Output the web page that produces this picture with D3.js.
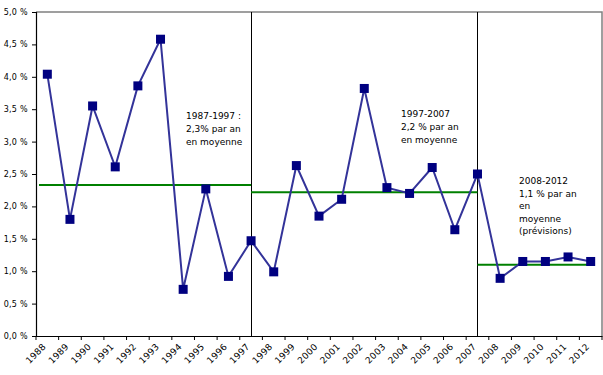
<!DOCTYPE html>
<html><head><meta charset="utf-8">
<script src="https://cdn.jsdelivr.net/npm/d3@7"></script>
<style>
body{margin:0;background:#fff;}
svg{display:block;font-family:"DejaVu Sans",Verdana,sans-serif;}
</style></head>
<body><svg id="c" width="603" height="375"></svg>
<script>
const years = ["1988","1989","1990","1991","1992","1993","1994","1995","1996","1997","1998","1999","2000","2001","2002","2003","2004","2005","2006","2007","2008","2009","2010","2011","2012"];
const growth = [4.04,1.80,3.55,2.61,3.86,4.58,0.72,2.27,0.92,1.47,0.99,2.63,1.85,2.11,3.82,2.29,2.20,2.60,1.64,2.50,0.89,1.15,1.15,1.22,1.15];
const yTicks = [0,0.5,1,1.5,2,2.5,3,3.5,4,4.5,5];
const periodFrom = ["1988","1997","2007"];
const periodTo = ["1997","2007","2012"];
const periodMean = [2.33,2.22,1.10];
const separators = ["1997","2007"];
const notes = [
  ["1987-1997 :","2,3% par an","en moyenne"],
  ["1997-2007","2,2 % par an","en moyenne"],
  ["2008-2012","1,1 % par an","en","moyenne","(prévisions)"]
];

const svg = d3.select("#c");
const L=36, R=602, T=12, B=336;
const x = d3.scaleBand().domain(years).range([L,R]);
const y = d3.scaleLinear().domain([0,5]).range([B,T]);
const cx = d => x(d)+x.bandwidth()/2;

// top & right border
svg.append("path").attr("d",`M${L},${T}H${R}V${B}`).attr("fill","none").attr("stroke","#808080").attr("stroke-width",1.5);

// separators
svg.selectAll(".sep").data(separators).join("line")
  .attr("x1",d=>Math.round(cx(d))+0.5).attr("x2",d=>Math.round(cx(d))+0.5)
  .attr("y1",T).attr("y2",B).attr("stroke","#000").attr("stroke-width",1);

// y axis
const fmt = v => d3.format(".1f")(v).replace(".",",")+" %";
const ya = svg.append("g").attr("transform",`translate(${L},0)`)
  .call(d3.axisLeft(y).tickValues(yTicks).tickSize(4).tickFormat(fmt));
ya.select(".domain").attr("stroke","#000").attr("stroke-width",1.2);
ya.selectAll("text").attr("font-size",8).attr("fill","#000").attr("font-family","DejaVu Sans, sans-serif").attr("x",-8).attr("letter-spacing",0.3);

// x axis
const xa = svg.append("g").attr("transform",`translate(0,${B})`)
  .call(d3.axisBottom(x).tickSize(0).tickFormat(""));
xa.select(".domain").attr("stroke","#000").attr("stroke-width",1.2);
const bounds = years.map(d=>x(d)).concat([R]);
svg.selectAll(".xt").data(bounds).join("line")
  .attr("x1",d=>d).attr("x2",d=>d).attr("y1",B).attr("y2",B+4).attr("stroke","#000");
svg.selectAll(".xl").data(years).join("text")
  .attr("transform",d=>`translate(${cx(d)-3},${B+9}) rotate(-45)`)
  .attr("text-anchor","end").attr("font-size",9).attr("fill","#000")
  .attr("letter-spacing",0.3)
  .attr("dy","0.35em").text(d=>d);

// mean lines
svg.selectAll(".mean").data(periodMean).join("line")
  .attr("x1",(d,i)=> i===0 ? L+3 : cx(periodFrom[i]))
  .attr("x2",(d,i)=> i===periodMean.length-1 ? cx(periodTo[i])+4 : cx(periodTo[i]))
  .attr("y1",d=>y(d)).attr("y2",d=>y(d))
  .attr("stroke","#008000").attr("stroke-width",2);

// series line
svg.append("path").datum(growth)
  .attr("d",d3.line().x((d,i)=>cx(years[i])).y(d=>y(d)))
  .attr("fill","none").attr("stroke","#333399").attr("stroke-width",2);
svg.selectAll(".mk").data(growth).join("rect")
  .attr("x",(d,i)=>cx(years[i])-4.5).attr("y",d=>y(d)-4.5)
  .attr("width",9).attr("height",9).attr("fill","#000080");

// annotations
const noteX = [186,401,519];
const noteY = [119,117,184];
const noteDy = [13,13,12.5];
notes.forEach((lines,i)=>{
  const t = svg.append("text").attr("font-size",9).attr("fill","#000");
  lines.forEach((s,j)=>{
    t.append("tspan").attr("x",noteX[i]).attr("y",noteY[i]+j*noteDy[i]).text(s);
  });
});
</script></body></html>
